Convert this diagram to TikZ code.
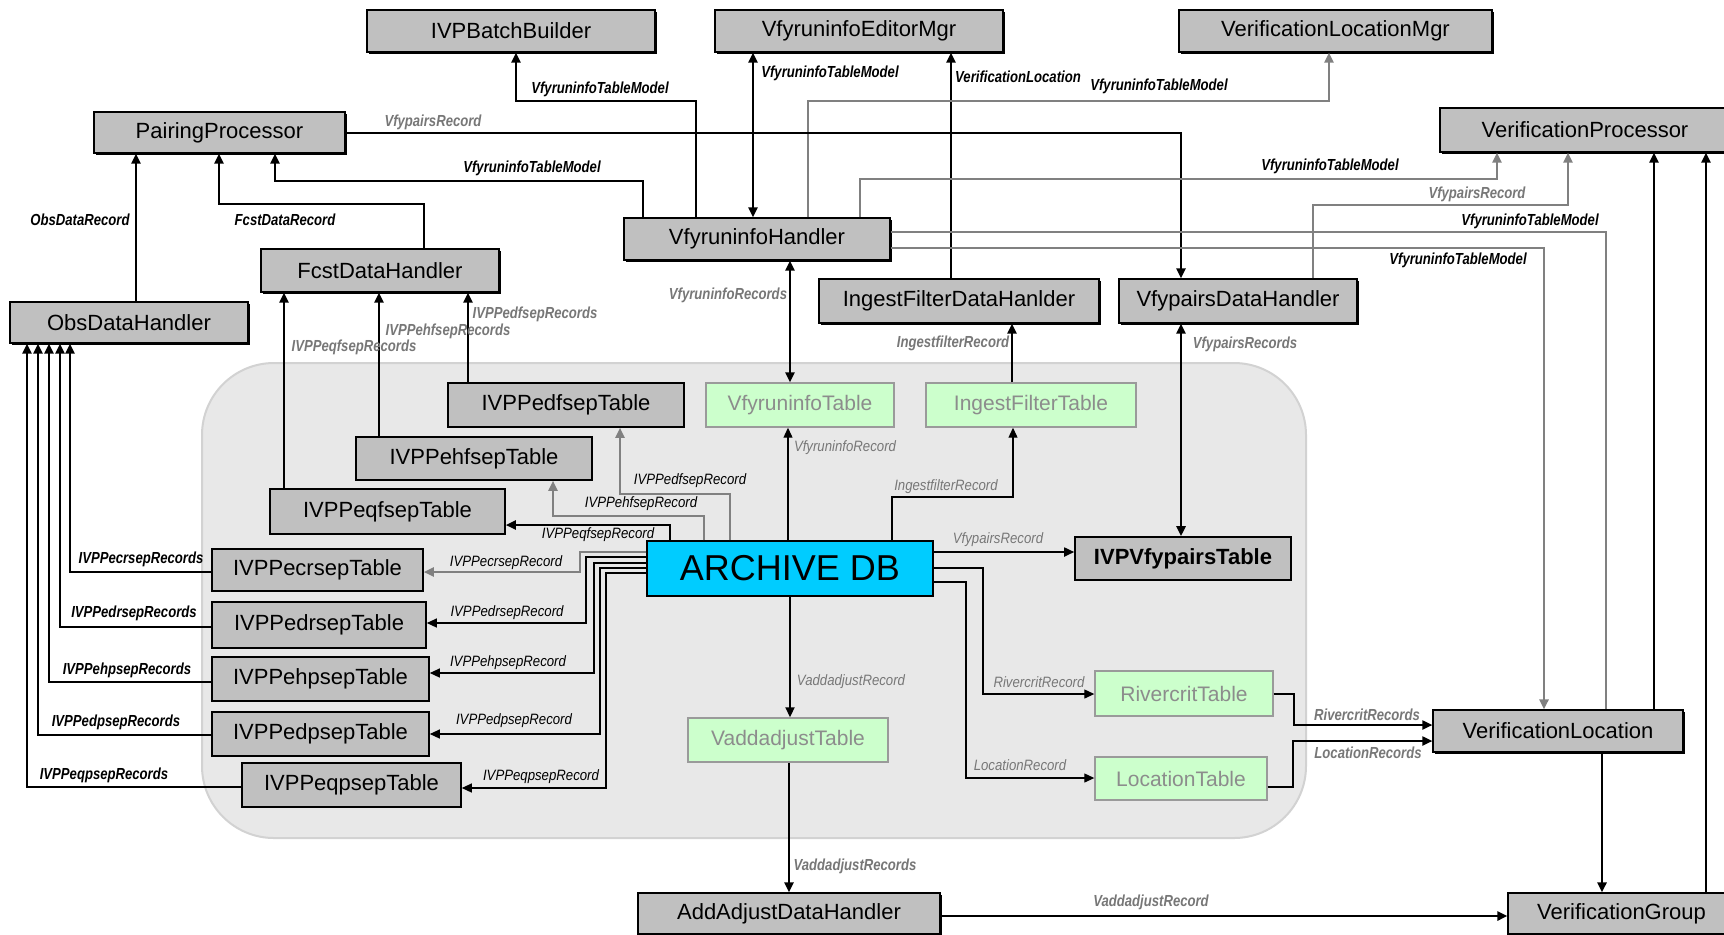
\documentclass[tikz,border=0pt]{standalone}
\usepackage{fontspec}
\setmainfont{Liberation Sans}
\usepackage{graphicx}
\usetikzlibrary{arrows.meta,shadows}

\definecolor{boxgray}{HTML}{C0C0C0}
\definecolor{tabgreen}{HTML}{CCFFCC}
\definecolor{tabedge}{HTML}{9A9A9A}
\definecolor{tabtext}{HTML}{8C8C8C}
\definecolor{dbcyan}{HTML}{00CCFF}
\definecolor{regionfill}{HTML}{E8E8E8}
\definecolor{regionedge}{HTML}{D2D2D2}
\definecolor{wiregray}{HTML}{808080}
\definecolor{labgray}{HTML}{777777}

\tikzset{
  gbox/.style={inner sep=0pt, fill=boxgray, draw=black, line width=0.6pt,
    drop shadow={shadow xshift=1.1pt, shadow yshift=-1.1pt, fill=black, opacity=1},
    font=\fontsize{11}{13}\selectfont},
  tbox/.style={inner sep=0pt, fill=boxgray, draw=black, line width=0.8pt,
    drop shadow={shadow xshift=0.6pt, shadow yshift=-0.6pt, fill=black, opacity=1},
    font=\fontsize{11}{13}\selectfont},
  greenbox/.style={inner sep=0pt, fill=tabgreen, draw=tabedge, line width=0.7pt,
    drop shadow={shadow xshift=0.7pt, shadow yshift=-0.7pt, fill=tabedge, opacity=1},
    text=tabtext, font=\fontsize{10.5}{12}\selectfont},
  dbbox/.style={inner sep=0pt, fill=dbcyan, draw=black, line width=0.7pt,
    font=\fontsize{18}{20}\selectfont},
  areabox/.style={inner sep=0pt, fill=regionfill, draw=regionedge, line width=1pt,
    rounded corners=36pt},
  olab/.style={inner sep=0pt, font=\fontsize{8}{9}\selectfont\bfseries\itshape},
  ilab/.style={inner sep=0pt, font=\fontsize{7.5}{8}\selectfont\itshape},
  arr/.style={-{Triangle[length=5pt,width=4.5pt]}},
  darr/.style={{Triangle[length=5pt,width=4.5pt]}-{Triangle[length=5pt,width=4.5pt]}},
  wblack/.style={draw=black, line width=1.3pt},
  wgray/.style={draw=wiregray, line width=1.3pt},
  wthin/.style={draw=black, line width=0.6pt},
  wthingray/.style={draw=wiregray, line width=1pt},
}

% box given by its corners x1,y1,x2,y2 (one unit = 0.5pt)
\newcommand\bx[7][gbox]{%
  \pgfmathsetmacro\boxw{(#5-#3)*0.5}%
  \pgfmathsetmacro\boxh{(#6-#4)*0.5}%
  \node[#1, minimum width=\boxw pt, minimum height=\boxh pt] (#2)
    at ({(#3+#5)/2},{(#4+#6)/2}) {#7};}
% connector labels: outside (bold, condensed) and inside the archive area
\newcommand\olbl[4][black]{\node[olab, text=#1] (#2) at (#3) {\scalebox{0.82}[1]{#4}};}
\newcommand\ilbl[4][black]{\node[ilab, text=#1] (#2) at (#3) {\scalebox{0.88}[1]{#4}};}

\begin{document}
\begin{tikzpicture}[x=0.5pt, y=-0.5pt]
\useasboundingbox[fill=white] (0,0) rectangle (1724,934);

% archive area
\bx[areabox]{area}{202}{363}{1306}{838}{}

% handlers and managers
\bx{bb}{367}{10}{655}{52}{IVPBatchBuilder}
\bx{vem}{715}{10}{1003}{52}{VfyruninfoEditorMgr}
\bx{vlm}{1179}{10}{1492}{52}{VerificationLocationMgr}
\bx{pp}{94}{112}{345}{153}{PairingProcessor}
\bx{vp}{1440}{108}{1730}{152}{VerificationProcessor}
\bx{vih}{624}{218}{890}{260}{VfyruninfoHandler}
\bx{fd}{261}{249}{499}{292}{FcstDataHandler}
\bx{od}{10}{302}{248}{343}{ObsDataHandler}
\bx{ifd}{819}{279}{1099}{323}{IngestFilterDataHanlder}
\bx{vpd}{1119}{279}{1357}{323}{VfypairsDataHandler}
\bx{vl}{1433}{710}{1683}{752}{VerificationLocation}
\bx{aad}{638}{893}{940}{934}{AddAdjustDataHandler}
\bx{vg}{1508}{893}{1735}{934}{VerificationGroup}

% tables
\bx[tbox]{edf}{448}{383}{684}{427}{IVPPedfsepTable}
\bx[tbox]{ehf}{356}{437}{592}{480}{IVPPehfsepTable}
\bx[tbox]{eqf}{270}{489}{505}{534}{IVPPeqfsepTable}
\bx[tbox]{ecr}{212}{549}{423}{591}{IVPPecrsepTable}
\bx[tbox]{edr}{212}{602}{426}{648}{IVPPedrsepTable}
\bx[tbox]{ehp}{212}{657}{429}{701}{IVPPehpsepTable}
\bx[tbox]{edp}{212}{712}{429}{756}{IVPPedpsepTable}
\bx[tbox]{eqp}{242}{763}{461}{807}{IVPPeqpsepTable}
\bx[tbox]{vpt}{1075}{537}{1291}{580}{\bfseries IVPVfypairsTable}
\bx[greenbox]{vt}{706}{383}{894}{427}{VfyruninfoTable}
\bx[greenbox]{ift}{926}{383}{1136}{427}{IngestFilterTable}
\bx[greenbox]{vat}{688}{718}{888}{762}{VaddadjustTable}
\bx[greenbox]{rct}{1095}{671}{1273}{716}{RivercritTable}
\bx[greenbox]{lct}{1095}{757}{1267}{800}{LocationTable}
\bx[dbbox]{db}{647}{541}{933}{596}{ARCHIVE DB}

% connectors above the archive area
\draw[wblack,arr] (vih.north -| 696,0) |- (516,101) -- (bb.south -| 516,0);
\draw[wblack,darr] (vih.north -| 753,0) -- (vem.south -| 753,0);
\draw[wblack,arr] (ifd.north -| 951,0) -- (vem.south -| 951,0);
\draw[wgray,arr] (vih.north -| 808,0) |- (1329,101) -- (vlm.south -| 1329,0);
\draw[wblack,arr] (pp.east |- 0,133) -| (vpd.north -| 1181,0);
\draw[wblack,arr] (vih.north -| 643,0) |- (275,181) -- (pp.south -| 275,0);
\draw[wblack,arr] (fd.north -| 424,0) |- (219,204) -- (pp.south -| 219,0);
\draw[wblack,arr] (od.north -| 136,0) -- (pp.south -| 136,0);
\draw[wgray,arr] (vih.north -| 860,0) |- (1497,179) -- (vp.south -| 1497,0);
\draw[wgray,arr] (vpd.north -| 1313,0) |- (1568,205) -- (vp.south -| 1568,0);
\draw[wgray] (vih.east |- 0,232) -| (vl.north -| 1606,0);
\draw[wgray,arr] (vih.east |- 0,248) -| (vl.north -| 1544,0);
\draw[wblack,arr] (vl.north -| 1654,0) -- (vp.south -| 1654,0);
\draw[wblack,arr] (vg.north -| 1706,0) -- (vp.south -| 1706,0);
\draw[wblack,arr] (vl.south -| 1602,0) -- (vg.north -| 1602,0);
\draw[wblack,darr] (vih.south -| 790,0) -- (vt.north -| 790,0);
\draw[wblack,arr] (ift.north -| 1012,0) -- (ifd.south -| 1012,0);
\draw[wblack,darr] (vpd.south -| 1181,0) -- (vpt.north -| 1181,0);
\draw[wblack,arr] (eqf.north -| 284,0) -- (fd.south -| 284,0);
\draw[wblack,arr] (ehf.north -| 379,0) -- (fd.south -| 379,0);
\draw[wblack,arr] (edf.north -| 468,0) -- (fd.south -| 468,0);

% tables to ObsDataHandler
\draw[wblack,arr] (ecr.west |- 0,572) -| (od.south -| 70,0);
\draw[wblack,arr] (edr.west |- 0,627) -| (od.south -| 60,0);
\draw[wblack,arr] (ehp.west |- 0,682) -| (od.south -| 49,0);
\draw[wblack,arr] (edp.west |- 0,735) -| (od.south -| 38,0);
\draw[wblack,arr] (eqp.west |- 0,787) -| (od.south -| 27,0);

% ARCHIVE DB to its tables
\draw[wthingray,arr] (db.north -| 730,0) |- (620,494) -- (edf.south -| 620,0);
\draw[wthingray,arr] (db.north -| 704,0) |- (553,516) -- (ehf.south -| 553,0);
\draw[wthin,line width=1pt,arr] (db.north -| 670,0) |- (eqf.east |- 0,525);
\draw[wthin,arr] (db.north -| 788,0) -- (vt.south -| 788,0);
\draw[wthin,arr] (db.north -| 892,0) |- (1013,497) -- (ift.south -| 1013,0);
\draw[wthin,line width=0.9pt,arr] (db.east |- 0,552) -- (vpt.west |- 0,552);
\draw[wthin,arr] (db.east |- 0,568) -| (983,694) -- (rct.west |- 0,694);
\draw[wthin,arr] (db.east |- 0,582) -| (966,778) -- (lct.west |- 0,778);
\draw[wthin,line width=0.9pt,arr] (db.south -| 790,0) -- (vat.north -| 790,0);
\draw[wthingray,arr] (db.west |- 0,552) -| (580,572) -- (ecr.east |- 0,572);
\draw[wthin,arr] (db.west |- 0,557) -| (586,623) -- (edr.east |- 0,623);
\draw[wthin,arr] (db.west |- 0,563) -| (594,673) -- (ehp.east |- 0,673);
\draw[wthin,arr] (db.west |- 0,568) -| (600,734) -- (edp.east |- 0,734);
\draw[wthin,arr] (db.west |- 0,573) -| (606,788) -- (eqp.east |- 0,788);

% lower right
\draw[wblack,arr] (vat.south -| 789,0) -- (aad.north -| 789,0);
\draw[wblack,arr] (aad.east |- 0,916) -- (vg.west |- 0,916);
\draw[wblack,line width=1pt,arr] (rct.east |- 0,694) -| (1294,725) -- (vl.west |- 0,725);
\draw[wblack,line width=1pt,arr] (lct.east |- 0,787) -| (1293,741) -- (vl.west |- 0,741);

% labels outside the archive area
\olbl{l1}{600,89}{VfyruninfoTableModel}
\olbl{l2}{830,73}{VfyruninfoTableModel}
\olbl{l3}{1018,77}{VerificationLocation}
\olbl{l4}{1159,86}{VfyruninfoTableModel}
\olbl[labgray]{l5}{433,122}{VfypairsRecord}
\olbl{l6}{532,168}{VfyruninfoTableModel}
\olbl{l7}{285,220}{FcstDataRecord}
\olbl{l8}{80,220}{ObsDataRecord}
\olbl{l9}{1330,166}{VfyruninfoTableModel}
\olbl[labgray]{l10}{1477,194}{VfypairsRecord}
\olbl{l11}{1530,221}{VfyruninfoTableModel}
\olbl{l12}{1458,260}{VfyruninfoTableModel}
\olbl[labgray]{l13}{728,295}{VfyruninfoRecords}
\olbl[labgray]{l14}{953,343}{IngestfilterRecord}
\olbl[labgray]{l15}{1245,344}{VfypairsRecords}
\olbl[labgray]{l16}{354,347}{IVPPeqfsepRecords}
\olbl[labgray]{l17}{448,331}{IVPPehfsepRecords}
\olbl[labgray]{l18}{535,314}{IVPPedfsepRecords}
\olbl{l19}{141,559}{IVPPecrsepRecords}
\olbl{l20}{134,613}{IVPPedrsepRecords}
\olbl{l21}{127,670}{IVPPehpsepRecords}
\olbl{l22}{116,722}{IVPPedpsepRecords}
\olbl{l23}{104,775}{IVPPeqpsepRecords}
\olbl[labgray]{l24}{1367,715}{RivercritRecords}
\olbl[labgray]{l25}{1368,753}{LocationRecords}
\olbl[labgray]{l26}{855,866}{VaddadjustRecords}
\olbl[labgray]{l27}{1151,902}{VaddadjustRecord}

% labels inside the archive area
\ilbl{m1}{690,481}{IVPPedfsepRecord}
\ilbl{m2}{641,504}{IVPPehfsepRecord}
\ilbl{m3}{598,535}{IVPPeqfsepRecord}
\ilbl{m4}{506,563}{IVPPecrsepRecord}
\ilbl{m5}{507,613}{IVPPedrsepRecord}
\ilbl{m6}{508,663}{IVPPehpsepRecord}
\ilbl{m7}{514,721}{IVPPedpsepRecord}
\ilbl{m8}{541,777}{IVPPeqpsepRecord}
\ilbl[labgray]{m9}{845,448}{VfyruninfoRecord}
\ilbl[labgray]{m10}{946,487}{IngestfilterRecord}
\ilbl[labgray]{m11}{998,540}{VfypairsRecord}
\ilbl[labgray]{m12}{1039,682}{RivercritRecord}
\ilbl[labgray]{m13}{1020,765}{LocationRecord}
\ilbl[labgray]{m14}{851,682}{VaddadjustRecord}
\end{tikzpicture}
\end{document}
